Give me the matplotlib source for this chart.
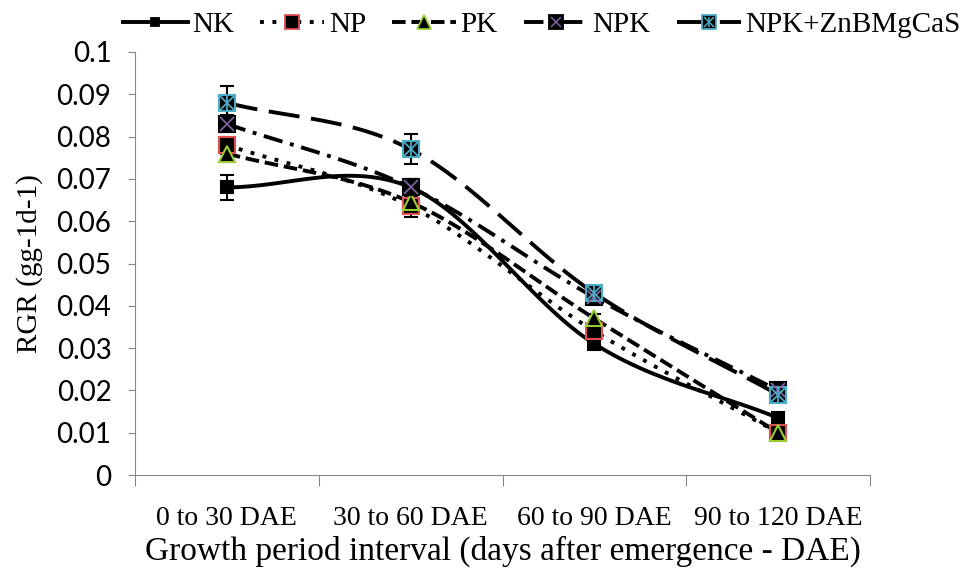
import numpy as np
import matplotlib
matplotlib.use('Agg')
import matplotlib.pyplot as plt
from matplotlib.lines import Line2D
from matplotlib.legend_handler import HandlerTuple

# 데이터
categories = ['0 to 30 DAE', '30 to 60 DAE', '60 to 90 DAE', '90 to 120 DAE']
nk = [0.068, 0.068, 0.031, 0.0135]
np_ = [0.078, 0.0635, 0.034, 0.010]
pk = [0.076, 0.0645, 0.037, 0.010]
npk = [0.083, 0.068, 0.042, 0.020]
npk_zn = [0.088, 0.077, 0.043, 0.019]

nk_err = [0.003, 0.002, 0.001, 0.001]
np_err = [0.002, 0.0025, 0.001, 0.001]
pk_err = [0.002, 0.002, 0.001, 0.001]
npk_err = [0.002, 0.002, 0.001, 0.001]
npk_zn_err = [0.004, 0.0035, 0.001, 0.001]

series_names = ['NK', 'NP', 'PK', 'NPK', 'NPK+ZnBMgCaS']


# 엑셀 스타일 부드러운 선 (Catmull-Rom)
def smooth(x, y, n=40):
    x = np.asarray(x, float)
    y = np.asarray(y, float)
    px = np.concatenate([[2 * x[0] - x[1]], x, [2 * x[-1] - x[-2]]])
    py = np.concatenate([[2 * y[0] - y[1]], y, [2 * y[-1] - y[-2]]])
    xs, ys = [], []
    for i in range(1, len(px) - 2):
        t = np.linspace(0, 1, n)
        for arr, out in ((px, xs), (py, ys)):
            p0, p1, p2, p3 = arr[i - 1], arr[i], arr[i + 1], arr[i + 2]
            c1 = p1 + (p2 - p0) / 6
            c2 = p2 - (p3 - p1) / 6
            out.extend((1 - t) ** 3 * p1 + 3 * (1 - t) ** 2 * t * c1
                       + 3 * (1 - t) * t ** 2 * c2 + t ** 3 * p2)
    return np.array(xs), np.array(ys)


fig = plt.figure(figsize=(9.68, 5.72), dpi=100)
ax = fig.add_axes([135 / 968, 1 - 475 / 572, 735 / 968, 423 / 572])

x = np.arange(len(categories)) + 0.5

styles = [
    dict(data=nk, err=nk_err, marker='s', ms=8, mec='black', dashes=None, over=[]),
    dict(data=np_, err=np_err, marker='s', ms=12, mec='#e05050', dashes=(1, 2.2), over=[]),
    dict(data=pk, err=pk_err, marker='^', ms=12, mec='#9acd32', dashes=(3.5, 1.5), over=[]),
    dict(data=npk, err=npk_err, marker='s', ms=12, mec='black', dashes=(5, 2, 1, 2),
         over=[('x', '#8060a0')]),
    dict(data=npk_zn, err=npk_zn_err, marker='s', ms=12, mec='#4aacc6', dashes=(8, 3),
         over=[('x', '#4aacc6'), ('|', '#4aacc6')]),
]

handles = []
for name, st in zip(series_names, styles):
    sx, sy = smooth(x, st['data'])
    line, = ax.plot(sx, sy, color='black', lw=2.8, zorder=2)
    if st['dashes'] is not None:
        line.set_dashes(st['dashes'])
    ax.errorbar(x, st['data'], yerr=st['err'], fmt='none', ecolor='black',
                elinewidth=1.5, capsize=5, capthick=1.5, zorder=3)
    ax.plot(x, st['data'], ls='none', marker=st['marker'], ms=st['ms'],
            mfc='black', mec=st['mec'], mew=1.5, zorder=4)
    for m, c in st['over']:
        ax.plot(x, st['data'], ls='none', marker=m, ms=st['ms'] - 2, mec=c,
                mew=1.3, zorder=5)

    # 범례 핸들
    h = Line2D([], [], color='black', lw=2.8, marker=st['marker'],
               ms=st['ms'] * 0.8, mfc='black', mec=st['mec'], mew=1.3)
    if st['dashes'] is not None:
        h.set_dashes(st['dashes'])
    parts = [h] + [Line2D([], [], ls='none', marker=m, ms=st['ms'] * 0.8 - 2,
                          mec=c, mew=1.1) for m, c in st['over']]
    handles.append(tuple(parts))

ax.set_xlim(0, 4)
ax.set_ylim(0, 0.1)
ax.set_xticks(np.arange(5))
ax.set_xticklabels([])
ax.set_xticks(x, minor=True)
ax.set_xticklabels(categories, minor=True, fontfamily='Liberation Serif', fontsize=20)
ax.tick_params(axis='x', which='minor', length=0, pad=22)
ax.tick_params(axis='x', which='major', length=8, color='#868686', direction='out')
ax.set_yticks(np.arange(0, 0.101, 0.01))
ax.set_yticklabels(['0'] + ['%.2f' % v for v in np.arange(0.01, 0.1, 0.01)] + ['0.1'],
                   fontfamily='Lato', fontsize=20)
ax.tick_params(axis='y', length=5, color='#868686', direction='out', pad=12)

for s in ['top', 'right']:
    ax.spines[s].set_visible(False)
for s in ['left', 'bottom']:
    ax.spines[s].set_color('#868686')

ax.set_xlabel('Growth period interval (days after emergence - DAE)',
              fontfamily='Liberation Serif', fontsize=24, labelpad=4)
ax.set_ylabel('RGR (gg-1d-1)', fontfamily='Liberation Serif', fontsize=21, labelpad=10)

fig.legend(handles, series_names, loc='upper center', bbox_to_anchor=(0.56, 1.025),
           ncol=5, frameon=False, prop={'family': 'Liberation Serif', 'size': 21},
           handlelength=2.2, handletextpad=0.15, columnspacing=0.9,
           handler_map={tuple: HandlerTuple(ndivide=1, pad=0)})

fig.savefig('out.png', dpi=100)
